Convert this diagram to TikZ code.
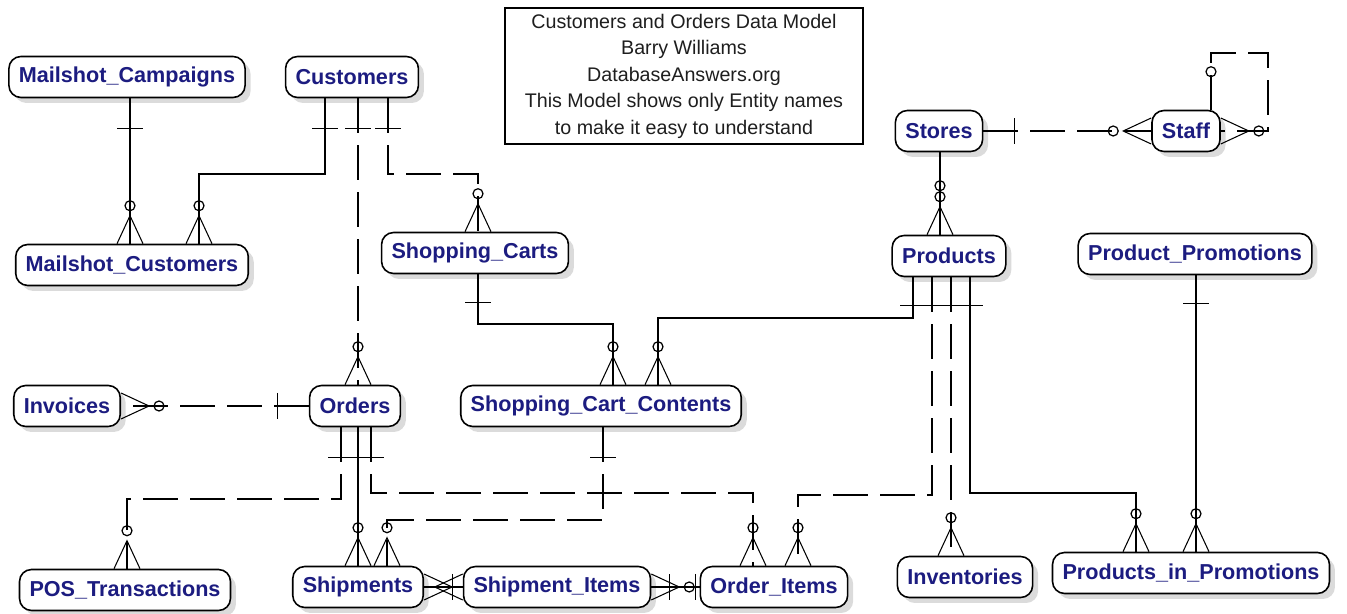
\documentclass[tikz,border=0pt]{standalone}
\usepackage{fontspec}
\setmainfont{Liberation Sans}
\usetikzlibrary{calc}
\usetikzlibrary{shadows}
\definecolor{entblue}{RGB}{28,28,128}
\definecolor{titlegray}{RGB}{30,30,30}
\tikzset{%
  entity/.style={draw=black, line width=0.9pt, rounded corners=0.24cm, fill=white,
    minimum height=0.82cm, inner xsep=0.2cm, text=entblue,
    font=\fontsize{12.3}{14}\selectfont\bfseries,
    drop shadow={shadow xshift=0.11cm, shadow yshift=-0.11cm, fill=black!28, draw=none}},
  idrel/.style={line width=0.8pt},
  nonidrel/.style={line width=0.8pt, dash pattern=on 0.7cm off 0.24cm},
  crow/.pic={\draw[line width=0.6pt] (-0.26cm,0) -- (0,0.56cm) -- (0.26cm,0);},
  ring/.pic={\draw[line width=0.7pt] (0,0.76cm) circle (0.1cm);},
  many/.pic={\draw[line width=0.6pt] (-0.26cm,0) -- (0,0.56cm) -- (0.26cm,0);
             \draw[line width=0.7pt] (0,0.76cm) circle (0.1cm);},
  bar/.pic={\draw[line width=0.8pt] (-0.26cm,-#1) -- (0.26cm,-#1);}
}

\begin{document}
\begin{tikzpicture}[x=0.02cm, y=-0.02cm]
\useasboundingbox (0,0) rectangle (1347,614);

% entities
\node [entity] (MC)    at (127,77)  {Mailshot\_Campaigns};
\node [entity] (Cust)  at (352,77)  {Customers};
\node [entity] (MCu)   at (132,265) {Mailshot\_Customers};
\node [entity] (SC)    at (475,253) {Shopping\_Carts};
\node [entity] (Stores) at (939,131) {Stores};
\node [entity] (Staff) at (1186,131) {Staff};
\node [entity] (Prod)  at (949,256) {Products};
\node [entity] (PP)    at (1195,254) {Product\_Promotions};
\node [entity] (Inv)   at (67,406)  {Invoices};
\node [entity] (Ord)   at (355,406) {Orders};
\node [entity] (SCC)   at (601,406) {Shopping\_Cart\_Contents};
\node [entity] (POS)   at (125,590) {POS\_Transactions};
\node [entity] (Ship)  at (358,587) {Shipments};
\node [entity] (SI)    at (557,587) {Shipment\_Items};
\node [entity] (OI)    at (774,587) {Order\_Items};
\node [entity] (Invt)  at (965,577) {Inventories};
\node [entity] (PiP)   at (1191,573) {Products\_in\_Promotions};

% title
\node [draw, line width=0.9pt, align=center, text=titlegray, minimum width=7.16cm,
  minimum height=2.7cm, font=\fontsize{11.2}{15.1}\selectfont] (Title) at (684,76)
  {Customers and Orders Data Model\\Barry Williams\\DatabaseAnswers.org\\
   This Model shows only Entity names\\to make it easy to understand};

% relationships
\draw [idrel] (MC.south -| 130,0) -- (MCu.north -| 130,0);
\draw [idrel] (Cust.south -| 325,0) |- (199,174) -- (MCu.north -| 199,0);
\draw [nonidrel] (Cust.south -| 358,0) -- (Ord.north -| 358,0);
\draw [nonidrel] (Cust.south -| 388,0) |- (478,174) -- (SC.north -| 478,0);
\draw [nonidrel] (Stores) -- (Staff);
\draw [nonidrel] (Staff.north -| 1211,0) -- (1211,53) -- (1268,53) -- (1268,131) -- (Staff.east);
\draw [idrel] (Stores.south -| 940,0) -- (Prod.north -| 940,0);
\draw [idrel] (Prod.south -| 913,0) |- (658,318) -- (SCC.north -| 658,0);
\draw [nonidrel] (Prod.south -| 932,0) |- (798,495) -- (OI.north -| 798,0);
\draw [nonidrel] (Prod.south -| 951,0) -- (Invt.north -| 951,0);
\draw [idrel] (Prod.south -| 970,0) |- (1136,493) -- (PiP.north -| 1136,0);
\draw [idrel] (PP.south -| 1196,0) -- (PiP.north -| 1196,0);
\draw [nonidrel] (Ord) -- (Inv);
\draw [nonidrel] (Ord.south -| 341,0) |- (127,499) -- (POS.north -| 127,0);
\draw [idrel] (Ord.south -| 358,0) -- (Ship.north -| 358,0);
\draw [nonidrel] (Ord.south -| 371,0) |- (753,493) -- (OI.north -| 753,0);
\draw [idrel] (SC.south -| 478,0) |- (613,324) -- (SCC.north -| 613,0);
\draw [nonidrel] (SCC.south -| 603,0) |- (387,520) -- (Ship.north -| 387,0);
\draw [idrel] (Ship) -- (SI);
\draw [idrel] (SI) -- (OI);

% one ends
\foreach \x in {130} \pic at (MC.south -| \x,0) {bar=0.6cm};
\foreach \x in {325,358,388} \pic at (Cust.south -| \x,0) {bar=0.6cm};
\foreach \x in {913,932,951,970} \pic at (Prod.south -| \x,0) {bar=0.56cm};
\foreach \x in {341,358,371} \pic at (Ord.south -| \x,0) {bar=0.6cm};
\pic at (PP.south -| 1196,0) {bar=0.56cm};
\pic at (SC.south -| 478,0) {bar=0.56cm};
\pic at (SCC.south -| 603,0) {bar=0.6cm};
\pic [rotate=90] at (Stores.east) {bar=0.62cm};
\pic [rotate=-90] at (Ord.west) {bar=0.62cm};

% many ends
\foreach \x in {130,199} \pic at (MCu.north -| \x,0) {many};
\pic at (SC.north -| 478,0) {many};
\pic at (Ord.north -| 358,0) {many};
\pic at (Prod.north -| 940,0) {many};
\pic [yshift=0.22cm] at (Prod.north -| 940,0) {ring};
\foreach \x in {613,658} \pic at (SCC.north -| \x,0) {many};
\foreach \x in {753,798} \pic at (OI.north -| \x,0) {many};
\pic at (POS.north -| 127,0) {many};
\foreach \x in {358,387} \pic at (Ship.north -| \x,0) {many};
\pic at (Invt.north -| 951,0) {many};
\foreach \x in {1136,1196} \pic at (PiP.north -| \x,0) {many};
\pic [rotate=-90] at (Inv.east) {many};
\pic [rotate=90] at (Staff.west) {many};
\pic [rotate=-90] at (Staff.east) {many};
\pic at (Staff.north -| 1211,0) {ring};

% items
\pic [rotate=-90] at (Ship.east) {crow};
\pic [rotate=90] at (SI.west) {crow};
\pic [rotate=-90] at (SI.west) {bar=0.2cm};
\pic [rotate=-90] at (SI.east) {crow};
\pic [rotate=90] at (SI.east) {bar=0.36cm};
\pic [rotate=-90] at (SI.east) {ring};
\pic [rotate=-90] at (OI.west) {bar=0.08cm};

\end{tikzpicture}
\end{document}
